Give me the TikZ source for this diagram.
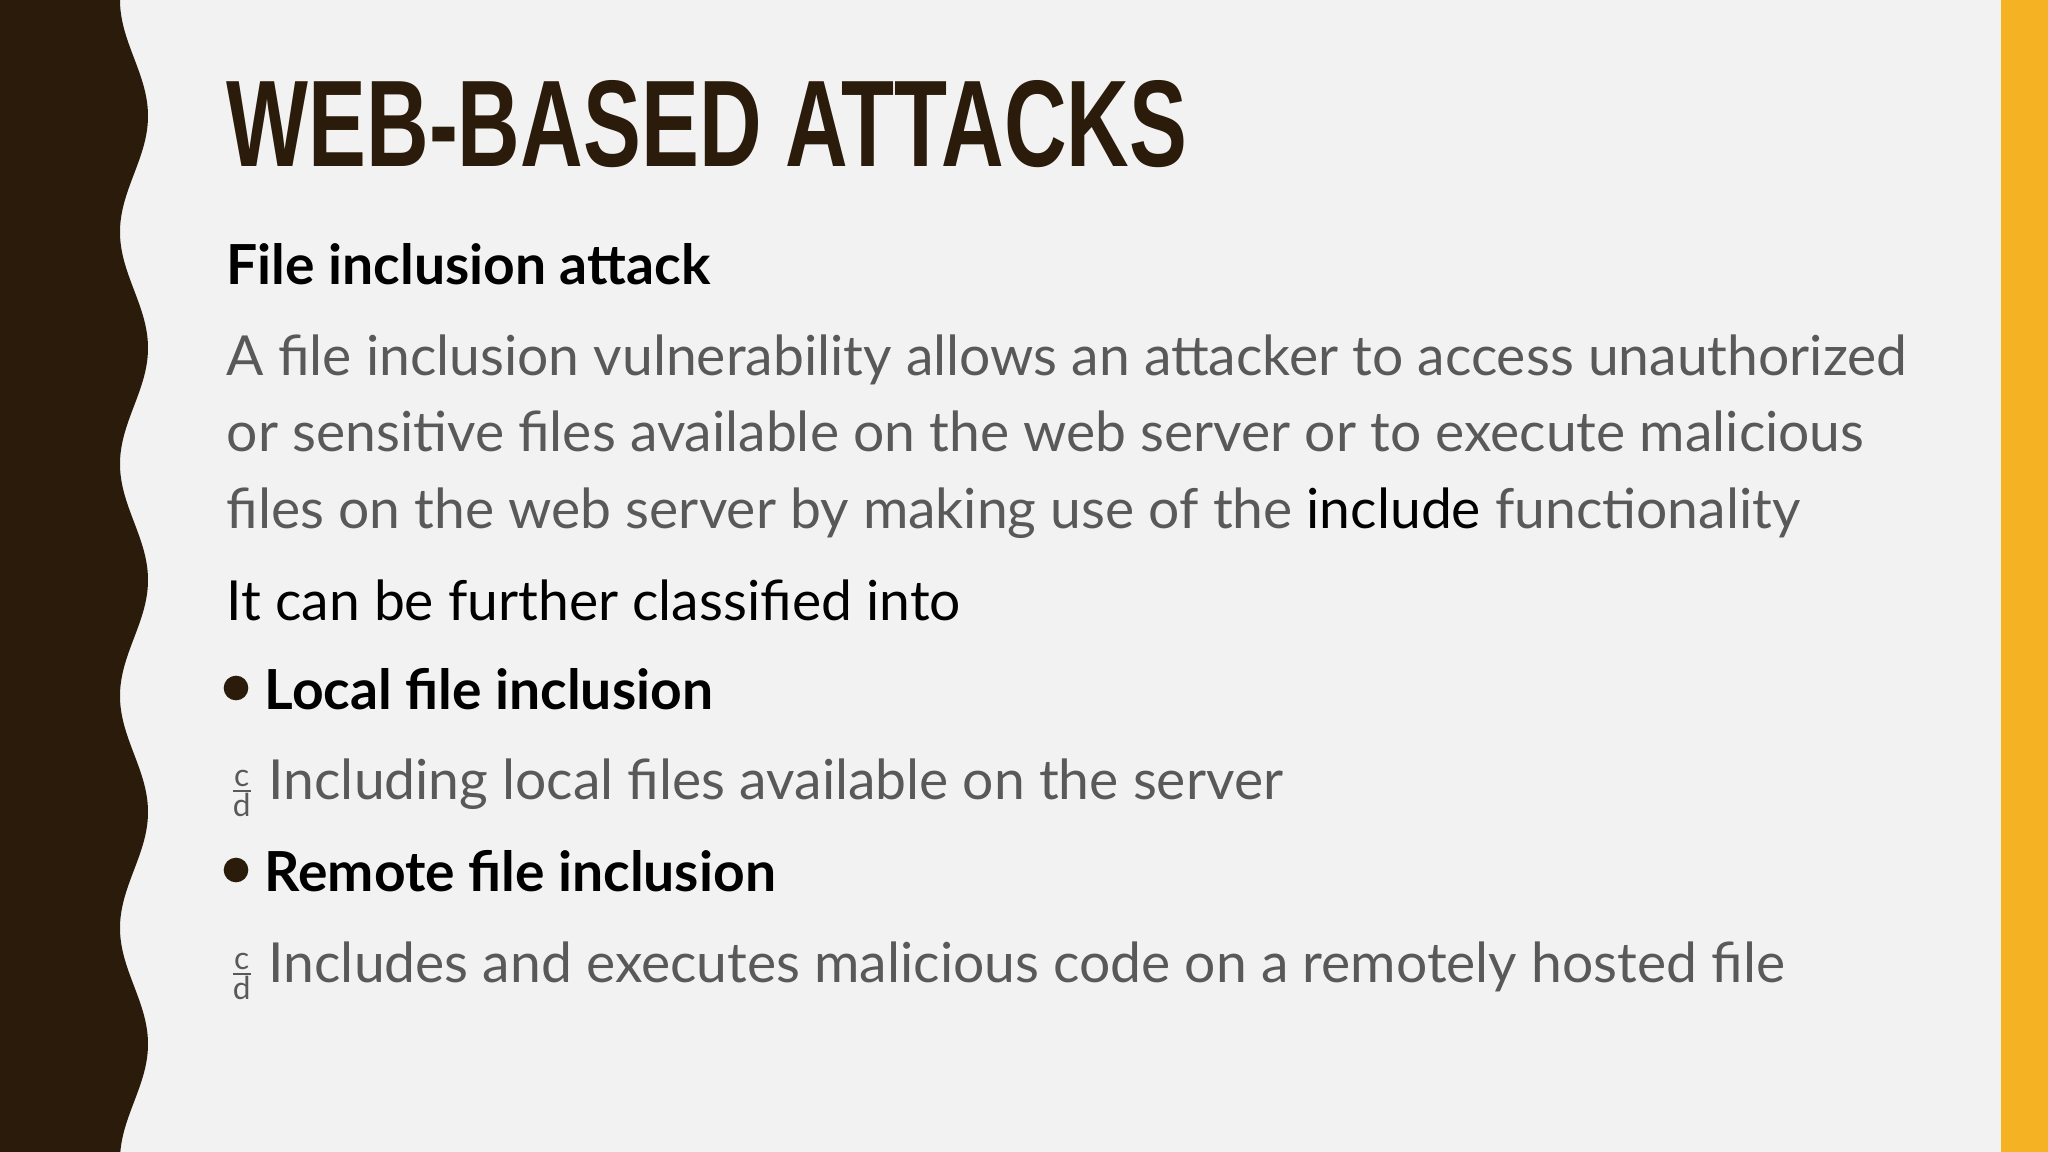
\documentclass[tikz,border=0pt]{standalone}
\usepackage{fontspec}
\setmainfont{Lato}
\newfontfamily\headfont{Liberation Sans}
\definecolor{bg}{HTML}{F2F2F2}
\definecolor{brown}{HTML}{2A1B0A}
\definecolor{gold}{HTML}{F5B223}
\definecolor{txtgray}{HTML}{595959}
\tikzset{
  body/.style={anchor=base west,inner sep=0pt,font=\fontsize{15.7pt}{18pt}\selectfont},
  graytxt/.style={body,text=txtgray},
  blacktxt/.style={body,text=black},
  boldtxt/.style={body,text=black,font=\fontsize{15.7pt}{18pt}\selectfont\bfseries},
  frac/.style={anchor=base west,inner sep=0pt,text=txtgray,font=\fontsize{9pt}{10pt}\selectfont},
  dot/.style={circle,fill=brown,inner sep=0pt,minimum size=7pt}
}
\begin{document}
\begin{tikzpicture}[x=0.01cm,y=-0.01cm]
\fill[bg] (0,0) rectangle (2048,1152);
\useasboundingbox (0,0) rectangle (2048,1152);
\fill[gold] (2001,0) rectangle (2048,1152);
\fill[brown] (0,0) -- plot[domain=0:1152,samples=240,smooth] ({134-14*cos(1.55172*\x)},\x) -- (0,1152) -- cycle;
\node[anchor=base west,inner sep=0pt,text=brown] (title) at (226,167) {\resizebox{9.6cm}{0.86cm}{\headfont\bfseries WEB-BASED ATTACKS}};
\node[boldtxt] (sub) at (226,285) {File inclusion attack};
\node[graytxt] (p1) at (226,376) {A file inclusion vulnerability allows an attacker to access unauthorized};
\node[graytxt] (p2) at (226,452) {or sensitive files available on the web server or to execute malicious};
\node[graytxt] (p3) at (226,528) {files on the web server by making use of the \textcolor{black}{include} functionality};
\node[blacktxt] (cls) at (226,620) {It can be further classified into};
\node[dot] (d1) at (236,688) {};
\node[boldtxt] (lfi) at (264,709) {Local file inclusion};
\node[frac] (f1) at (228,799) {$\frac{\mbox{c}}{\mbox{d}}$};
\node[graytxt] (lfid) at (268,799) {Including local files available on the server};
\node[dot] (d2) at (236,870) {};
\node[boldtxt] (rfi) at (264,891) {Remote file inclusion};
\node[frac] (f2) at (228,982) {$\frac{\mbox{c}}{\mbox{d}}$};
\node[graytxt] (rfid) at (268,982) {Includes and executes malicious code on a remotely hosted file};
\end{tikzpicture}
\end{document}
